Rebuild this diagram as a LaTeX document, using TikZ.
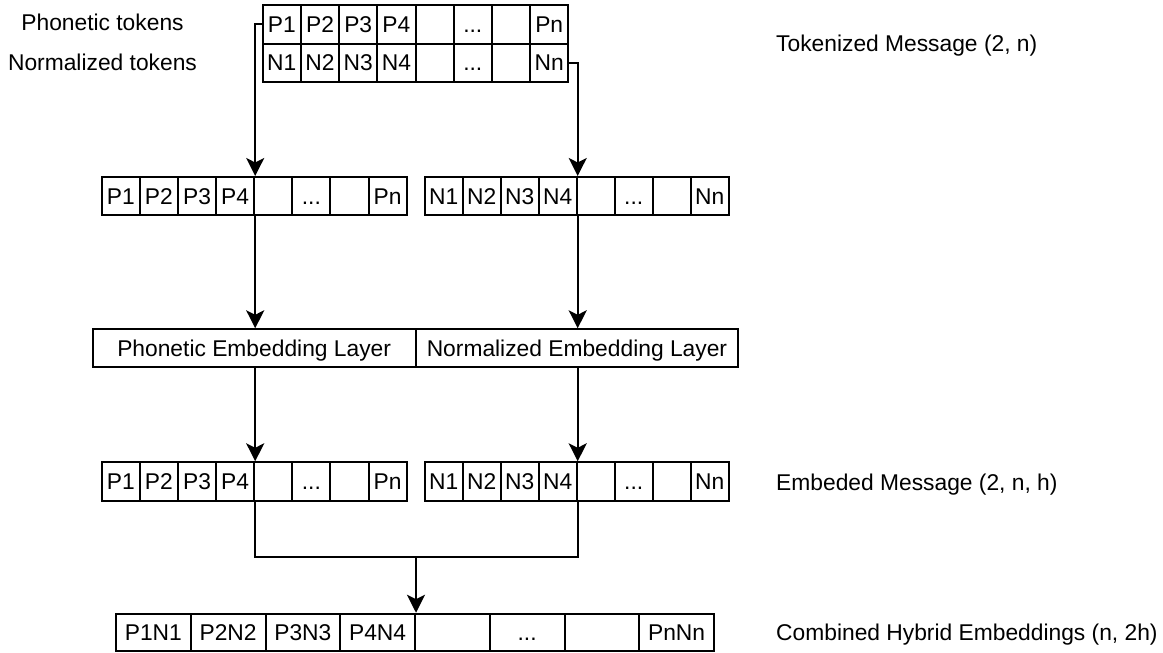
\documentclass[tikz,border=0pt]{standalone}
\usepackage{fontspec}
\setmainfont{Liberation Sans}
\usetikzlibrary{arrows.meta}
\newcommand{\tokdots}{...}
\begin{document}
\begin{tikzpicture}[x=1pt,y=-1pt,
  base/.style={inner sep=0pt, text height=16.2pt, text depth=0pt,
               font=\fontsize{22.8}{27}\selectfont},
  cell/.style={base, draw, line width=2pt, minimum height=38.4pt},
  label/.style={base},
  link/.style={line width=2pt},
  arr/.style={link, -{Stealth[length=18pt,width=18pt,inset=4.5pt]}}]
\useasboundingbox (0,0) rectangle (1163,653);

% tokenized message: two rows of tokens
\foreach \i/\t in {1/P1,2/P2,3/P3,4/P4,5/,6/\tokdots,7/,8/Pn}
  \node[cell, minimum width=38.2pt] (tp\i) at ({262.7+(\i-0.5)*38.2}, 24.4) {\t};
\foreach \i/\t in {1/N1,2/N2,3/N3,4/N4,5/,6/\tokdots,7/,8/Nn}
  \node[cell, minimum width=38.2pt] (tn\i) at ({262.7+(\i-0.5)*38.2}, 62.8) {\t};
\node[label] (lblp) at (102.5, 22) {Phonetic tokens};
\node[label] (lbln) at (102.5, 62) {Normalized tokens};
\node[label, anchor=west] (lbltok) at (776, 43.5) {Tokenized Message (2, n)};

% separated token sequences
\foreach \i/\t in {1/P1,2/P2,3/P3,4/P4,5/,6/\tokdots,7/,8/Pn}
  \node[cell, minimum width=38.125pt] (pp\i) at ({101.7+(\i-0.5)*38.125}, 196.2) {\t};
\foreach \i/\t in {1/N1,2/N2,3/N3,4/N4,5/,6/\tokdots,7/,8/Nn}
  \node[cell, minimum width=38pt] (nn\i) at ({424.7+(\i-0.5)*38}, 196.2) {\t};

% embedding layers
\node[cell, minimum width=322.9pt, minimum height=38pt] (lp) at (254.15, 348.3) {Phonetic Embedding Layer};
\node[cell, minimum width=322.7pt, minimum height=38pt] (ln) at (576.95, 348.3) {Normalized Embedding Layer};

% embedded sequences
\foreach \i/\t in {1/P1,2/P2,3/P3,4/P4,5/,6/\tokdots,7/,8/Pn}
  \node[cell, minimum width=38.125pt] (ep\i) at ({101.7+(\i-0.5)*38.125}, 481.5) {\t};
\foreach \i/\t in {1/N1,2/N2,3/N3,4/N4,5/,6/\tokdots,7/,8/Nn}
  \node[cell, minimum width=38pt] (en\i) at ({424.7+(\i-0.5)*38}, 481.5) {\t};
\node[label, anchor=west] (lblemb) at (776, 482) {Embeded Message (2, n, h)};

% combined hybrid embeddings
\foreach \i/\t in {1/P1N1,2/P2N2,3/P3N3,4/P4N4,5/,6/\tokdots,7/,8/PnNn}
  \node[cell, minimum width=74.75pt, minimum height=37.5pt] (cb\i) at ({116+(\i-0.5)*74.75}, 632.5) {\t};
\node[label, anchor=west] (lblcomb) at (776, 632.5) {Combined Hybrid Embeddings (n, 2h)};

% connectors
\draw[arr] (tp1.west) -| (pp4.north east);
\draw[arr] (tn8.east) -| (nn4.north east);
\draw[arr] (pp4.south east) -- (pp4.south east |- lp.north);
\draw[arr] (nn4.south east) -- (nn4.south east |- ln.north);
\draw[arr] (ep4.north east |- lp.south) -- (ep4.north east);
\draw[arr] (en4.north east |- ln.south) -- (en4.north east);
\path (cb4.north east) ++(0,-56) coordinate (mj);
\draw[link] (ep4.south east) |- (mj) -| (en4.south east);
\draw[arr] (mj) -- (cb4.north east);
\end{tikzpicture}
\end{document}
